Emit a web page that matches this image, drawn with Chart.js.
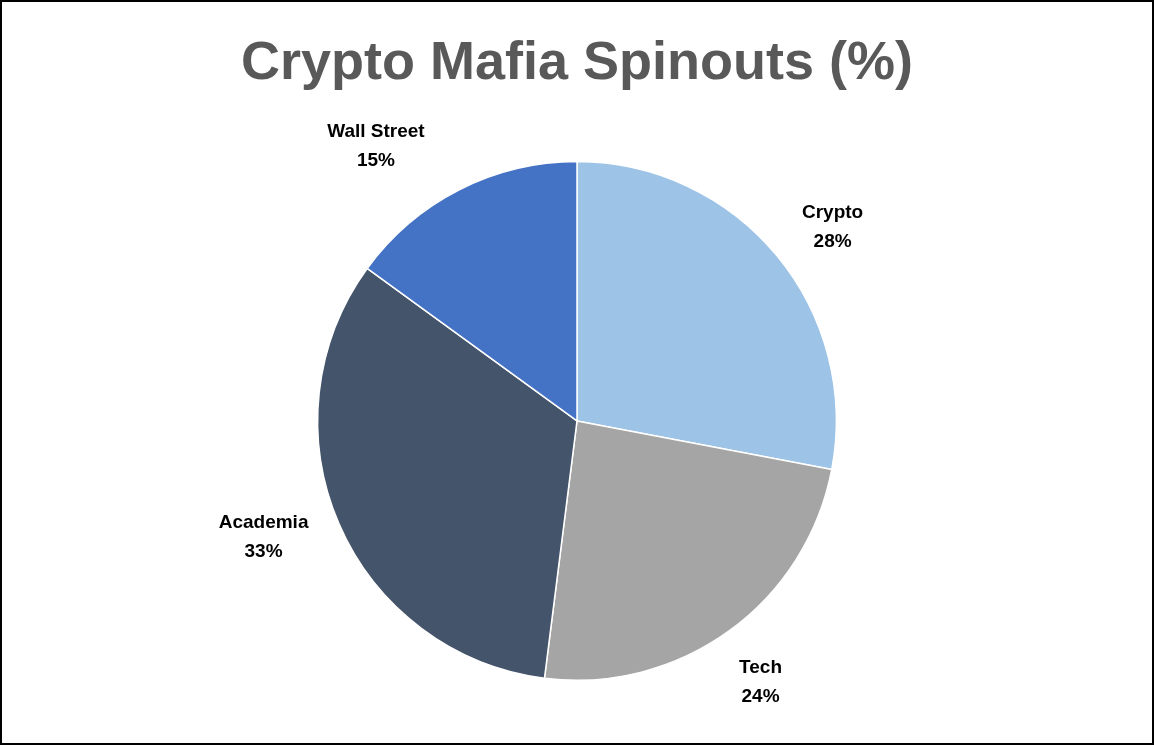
<!DOCTYPE html>
<html><head><meta charset="utf-8">
<script src="https://cdn.jsdelivr.net/npm/chart.js@4/dist/chart.umd.min.js"></script>
<style>html,body{margin:0;padding:0;background:#fff}#w{width:1154px;height:745px}</style>
</head><body><div id="w"><canvas id="c"></canvas></div>
<script>
const categories = ["Crypto", "Tech", "Academia", "Wall Street"];
const values = [28, 24, 33, 15];
const colors = ["#9DC3E6", "#A5A5A5", "#44546A", "#4472C4"];
const titleText = "Crypto Mafia Spinouts (%)";

const labelPlugin = {
  id: 'lbl',
  afterDraw(chart) {
    const ctx = chart.ctx;
    const meta = chart.getDatasetMeta(0);
    ctx.save();
    ctx.font = 'bold 19px "Liberation Sans", Arial, sans-serif';
    ctx.fillStyle = '#000';
    ctx.textAlign = 'center';
    ctx.textBaseline = 'middle';
    const extra = [62, 58, 80, 80];
    const off = [[8, 11], [-3, 4], [-2, -19], [-47, 27]];
    meta.data.forEach((arc, i) => {
      const p = arc.getProps(['x','y','startAngle','endAngle','outerRadius'], true);
      const a = (p.startAngle + p.endAngle) / 2;
      const r = p.outerRadius + extra[i];
      const x = p.x + Math.cos(a) * r + off[i][0], y = p.y + Math.sin(a) * r + off[i][1];
      ctx.fillText(categories[i], x, y - 14);
      ctx.fillText(values[i] + '%', x, y + 15);
    });
    ctx.strokeStyle = '#000'; ctx.lineWidth = 2;
    ctx.strokeRect(1, 1, chart.width - 2, chart.height - 2);
    ctx.restore();
  }
};

new Chart(document.getElementById('c'), {
  type: 'pie',
  data: { labels: categories, datasets: [{ data: values, backgroundColor: colors, borderColor: '#fff', borderWidth: 1.5 }] },
  options: {
    responsive: true, maintainAspectRatio: false, animation: false,
    layout: { padding: { top: 0, bottom: 64 } },
    plugins: {
      legend: { display: false }, tooltip: { enabled: false },
      title: { display: true, text: titleText, color: '#595959',
        font: { size: 54, weight: 'bold', family: '"Liberation Sans", Arial, sans-serif' },
        padding: { top: 32, bottom: 64 } }
    }
  },
  plugins: [labelPlugin]
});
</script></body></html>
